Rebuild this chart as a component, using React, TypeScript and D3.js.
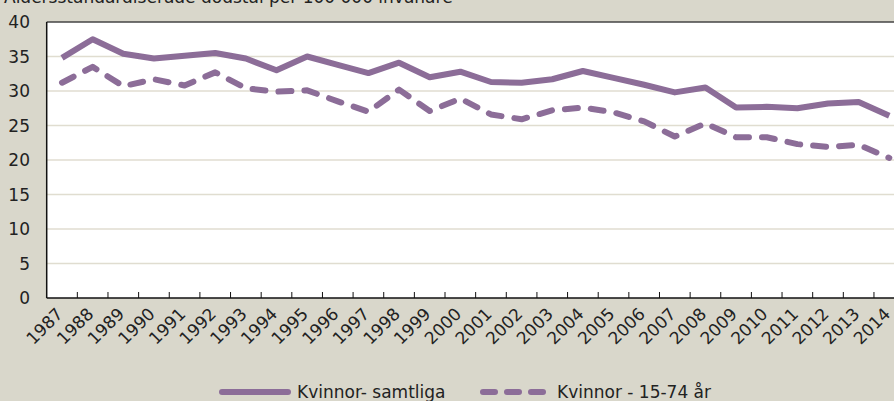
import React from "react";
import * as d3 from "d3";

const years = [
  "1987","1988","1989","1990","1991","1992","1993","1994","1995","1996",
  "1997","1998","1999","2000","2001","2002","2003","2004","2005","2006",
  "2007","2008","2009","2010","2011","2012","2013","2014",
];
const samtliga = [
  34.8, 37.5, 35.4, 34.7, 35.1, 35.5, 34.7, 33.0, 35.0, 33.8,
  32.6, 34.1, 32.0, 32.8, 31.3, 31.2, 31.7, 32.9, 31.9, 30.9,
  29.8, 30.5, 27.6, 27.7, 27.5, 28.2, 28.4, 26.4,
];
const aged1574 = [
  31.2, 33.5, 30.7, 31.7, 30.8, 32.7, 30.4, 29.9, 30.1, 28.5,
  27.0, 30.2, 27.1, 28.9, 26.6, 25.9, 27.2, 27.6, 26.9, 25.6,
  23.4, 25.3, 23.3, 23.3, 22.3, 21.9, 22.2, 20.3,
];
const yTicks = [0, 5, 10, 15, 20, 25, 30, 35, 40];
const seriesNames = ["Kvinnor- samtliga", "Kvinnor - 15-74 år"];
const title = "Åldersstandardiserade dödstal per 100 000 invånare";

const W = 894;
const H = 401;
const left = 46.7;
const right = 904.6;
const top = 22;
const bottom = 298;
const color = "#8c6d98";
const bg = "#d9d7cb";
const grid = "#e0ddd0";
const font = "'DejaVu Sans', sans-serif";

export default function App() {
  const x = d3.scaleBand<string>().domain(years).range([left, right]).paddingInner(0).paddingOuter(0);
  const y = d3.scaleLinear().domain([0, 40]).range([bottom, top]);
  const bw = x.bandwidth();
  const cx = (yr: string) => (x(yr) as number) + bw / 2;
  const line = d3
    .line<number>()
    .x((_, i) => cx(years[i]))
    .y((d) => y(d));

  return (
    <div style={{ position: "fixed", left: 0, top: 0, width: W, height: H, overflow: "hidden" }}>
      <svg width={W} height={H} style={{ display: "block", fontFamily: font }}>
        <rect x={0} y={0} width={W} height={H} fill={bg} />
        <text x={4} y={3} fontSize={17} fill="#222">{title}</text>
        <rect x={left} y={top} width={right - left} height={bottom - top} fill="#fff" />
        {yTicks.filter((t) => t > 0 && t < 40).map((t) => (
          <line key={t} x1={left} x2={right} y1={y(t)} y2={y(t)} stroke={grid} strokeWidth={1.5} />
        ))}
        <line x1={left} x2={right} y1={top} y2={top} stroke="#444" strokeWidth={1.5} />
        <line x1={left} x2={left} y1={top} y2={bottom} stroke="#111" strokeWidth={1.5} />
        <line x1={left} x2={right} y1={bottom} y2={bottom} stroke="#111" strokeWidth={1.5} />
        {years.slice(1).map((yr) => (
          <line key={yr} x1={x(yr) as number} x2={x(yr) as number} y1={bottom} y2={bottom - 6} stroke="#111" strokeWidth={1} />
        ))}
        {yTicks.map((t) => (
          <text key={t} x={30} y={y(t)} dy="0.36em" textAnchor="end" fontSize={17} fill="#222">{t}</text>
        ))}
        {years.map((yr) => (
          <text
            key={yr}
            transform={`translate(${cx(yr) + 2},${bottom + 17}) rotate(-45)`}
            textAnchor="end"
            fontSize={17}
            fill="#222"
          >{yr}</text>
        ))}
        <path d={line(samtliga) || ""} fill="none" stroke={color} strokeWidth={6} strokeLinejoin="round" />
        <path d={line(aged1574) || ""} fill="none" stroke={color} strokeWidth={6} strokeDasharray="13 13" strokeLinecap="round" strokeLinejoin="round" />
        <line x1={222} x2={288} y1={392} y2={392} stroke={color} strokeWidth={6} strokeLinecap="round" />
        <text x={297} y={398} fontSize={17} fill="#222">{seriesNames[0]}</text>
        <line x1={483} x2={543} y1={392} y2={392} stroke={color} strokeWidth={6} strokeLinecap="round" strokeDasharray="12 12" />
        <text x={557} y={398} fontSize={17} fill="#222">{seriesNames[1]}</text>
      </svg>
    </div>
  );
}
